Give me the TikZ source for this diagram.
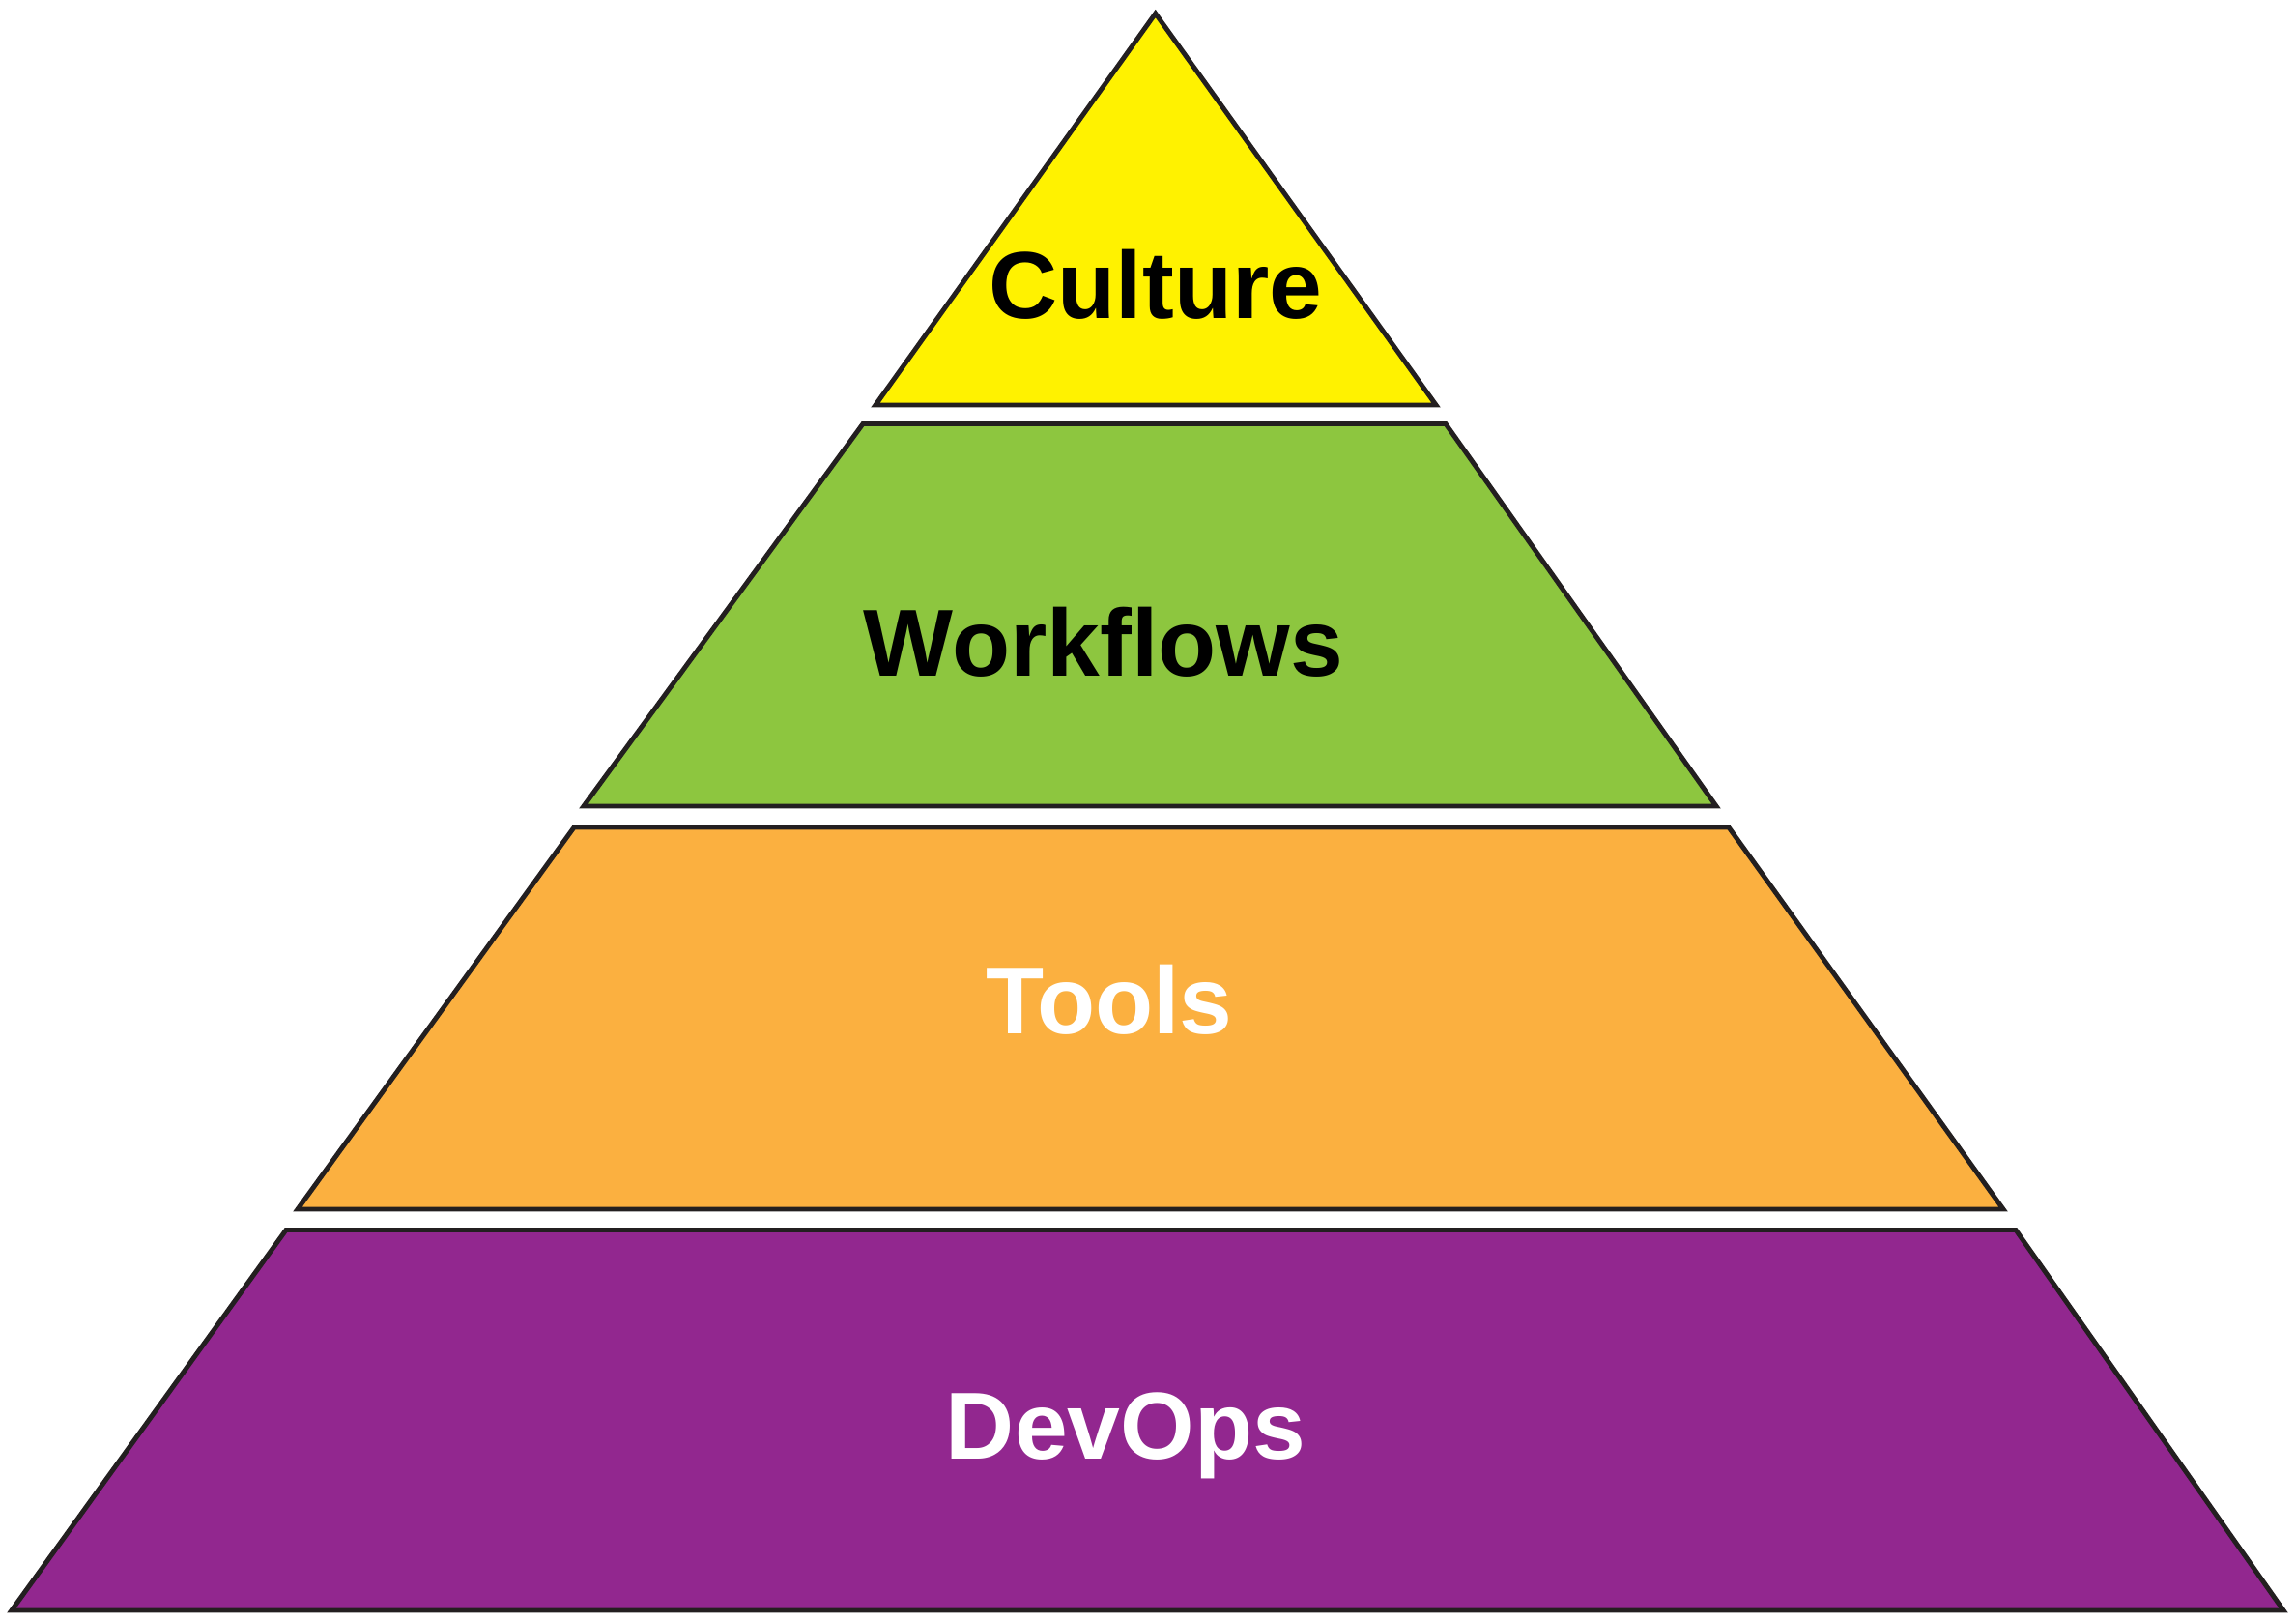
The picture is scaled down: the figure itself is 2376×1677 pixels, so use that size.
\documentclass[tikz,border=0pt]{standalone}
\usepackage{fontspec}
\setmainfont{Liberation Sans}
\definecolor{cultureyellow}{HTML}{FFF200}
\definecolor{workflowgreen}{HTML}{8DC63F}
\definecolor{toolorange}{HTML}{FBB040}
\definecolor{devopspurple}{HTML}{92278F}
\definecolor{edgeblack}{HTML}{231F20}

\begin{document}
\begin{tikzpicture}[x=0.01cm,y=-0.01cm,
	layer/.style={draw=edgeblack,line width=1.4pt,line join=miter},
	tag/.style={anchor=base,inner sep=0pt,font=\fontsize{28}{34}\selectfont\bfseries}]
\useasboundingbox (0,0) rectangle (2376,1677);
\filldraw[layer,fill=cultureyellow] (1195.7,14) -- (1486,419) -- (906,419) -- cycle;
\filldraw[layer,fill=workflowgreen] (893,438.5) -- (1496,438.5) -- (1776,834) -- (604,834) -- cycle;
\filldraw[layer,fill=toolorange] (594,856) -- (1789,856) -- (2073,1251) -- (308,1251) -- cycle;
\filldraw[layer,fill=devopspurple] (296,1272.5) -- (2086,1272.5) -- (2363,1666) -- (12,1666) -- cycle;
\node[tag,text=black] (culture)   at (1196,330)  {Culture};
\node[tag,text=black] (workflows) at (1142,700)  {Workflows};
\node[tag,text=white] (tools)     at (1148,1070) {Tools};
\node[tag,text=white] (devops)    at (1165,1509) {DevOps};
\end{tikzpicture}
\end{document}
